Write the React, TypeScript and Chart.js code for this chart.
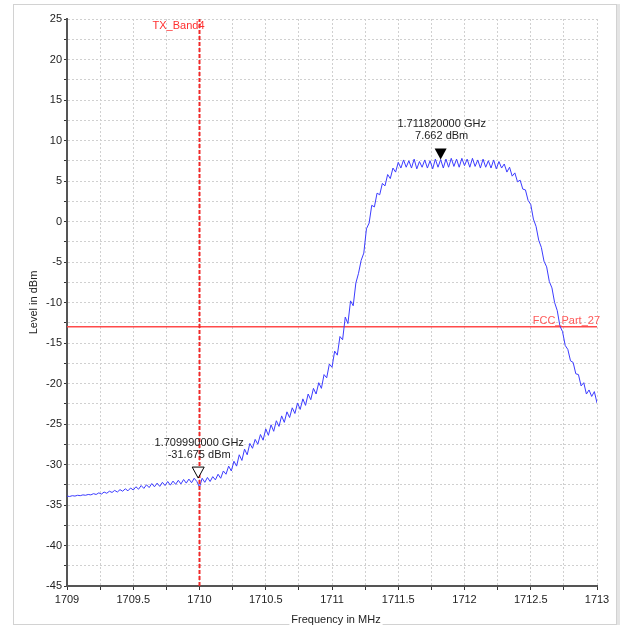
import React, { useEffect, useRef } from 'react';
import { Chart, registerables } from 'chart.js';

Chart.register(...registerables);

// ---- data ----
const sweepStartMHz = 1709;
const sweepStepMHz = 0.02;
const traceLevels = [
  -33.9, -33.95, -33.85, -33.9, -33.8, -33.85, -33.75, -33.8, -33.7, -33.75,
  -33.6, -33.7, -33.5, -33.65, -33.4, -33.55, -33.3, -33.45, -33.2, -33.4,
  -33.1, -33.3, -33.0, -33.25, -32.9, -33.15, -32.75, -33.05, -32.6, -32.95,
  -32.5, -32.85, -32.35, -32.75, -32.3, -32.7, -32.2, -32.6, -32.1, -32.55,
  -32.05, -32.45, -31.95, -32.4, -31.85, -32.3, -31.8, -32.25, -31.7, -32.1,
  -32.8, -31.7, -32.2, -31.6, -32.1, -31.5, -31.9, -31.2, -31.7, -30.8,
  -31.2, -30.2, -30.8, -29.6, -30.2, -28.8, -29.5, -28.1, -28.8, -27.4,
  -28.0, -26.9, -27.5, -26.3, -27.0, -25.6, -26.4, -25.1, -25.9, -24.6,
  -25.3, -24.0, -24.8, -23.5, -24.2, -23.0, -23.7, -22.4, -23.2, -21.9,
  -22.7, -21.3, -22.0, -20.6, -21.3, -19.9, -20.6, -18.9, -19.3, -17.6,
  -18.0, -16.0, -16.5, -14.2, -14.6, -11.8, -12.6, -9.8, -10.4, -7.6,
  -6.4, -4.8, -3.9, -0.9, -0.2, 2.0, 1.8, 3.5, 3.3, 4.7,
  4.4, 5.8, 5.3, 6.6, 6.1, 7.3, 6.6, 7.6, 6.7, 7.5,
  6.6, 7.7, 6.5, 7.4, 6.7, 7.6, 6.6, 7.5, 6.5, 7.7,
  6.7, 7.65, 6.6, 7.7, 6.7, 7.8, 6.8, 7.7, 6.7, 7.8,
  6.9, 7.7, 6.7, 7.8, 6.8, 7.6, 6.6, 7.7, 6.7, 7.5,
  6.6, 7.6, 6.5, 7.4, 6.6, 7.1, 6.1, 6.7, 5.6, 6.0,
  4.9, 5.1, 4.0, 3.9, 2.6, 2.1, 0.3, -0.6, -2.3, -3.2,
  -4.9, -5.6, -7.4, -8.2, -10.0, -11.0, -12.9, -13.6, -15.3, -15.8,
  -17.2, -17.4, -18.8, -18.9, -20.3, -19.9, -21.3, -20.8, -21.6, -21.0,
  -22.4,
];

const xTickValues = [
  1709, 1709.25, 1709.5, 1709.75, 1710, 1710.25, 1710.5, 1710.75, 1711,
  1711.25, 1711.5, 1711.75, 1712, 1712.25, 1712.5, 1712.75, 1713,
];
const xTickLabels = ['1709', '1709.5', '1710', '1710.5', '1711', '1711.5', '1712', '1712.5', '1713'];
const yTickValues = [
  -45, -42.5, -40, -37.5, -35, -32.5, -30, -27.5, -25, -22.5, -20, -17.5, -15,
  -12.5, -10, -7.5, -5, -2.5, 0, 2.5, 5, 7.5, 10, 12.5, 15, 17.5, 20, 22.5, 25,
];
const yTickLabels = ['-45', '-40', '-35', '-30', '-25', '-20', '-15', '-10', '-5', '0', '5', '10', '15', '20', '25'];

const bandLineName = 'TX_Band4';
const bandLineFreqMHz = 1710;
const limitLineName = 'FCC_Part_27';
const limitLineLevel = -13;

const markerFreqsMHz = [1711.82, 1709.99];
const markerLevels = [7.662, -31.675];
const markerFilled = [true, false];

const xTitle = 'Frequency in MHz';
const yTitle = 'Level in dBm';

// ---- styling ----
const FONT_FAMILY = '"Liberation Sans", Arial, sans-serif';
const FONT = `11px ${FONT_FAMILY}`;

const overlayPlugin = {
  id: 'overlay',
  beforeDraw(chart: any) {
    const { ctx } = chart;
    ctx.save();
    ctx.fillStyle = '#ffffff';
    ctx.fillRect(0, 0, chart.width, chart.height);
    ctx.strokeStyle = '#d2d2d2';
    ctx.lineWidth = 1;
    ctx.strokeRect(13.5, 4.5, 603, 620);
    ctx.fillStyle = '#e4e4e4';
    ctx.fillRect(617, 4, 3, 621);
    ctx.restore();
  },
  afterDatasetsDraw(chart: any) {
    const { ctx, chartArea } = chart;
    const xs = chart.scales.x;
    const ys = chart.scales.y;
    ctx.save();
    ctx.font = FONT;
    // band line label
    ctx.fillStyle = '#ff3030';
    ctx.textAlign = 'right';
    ctx.textBaseline = 'alphabetic';
    ctx.fillText(bandLineName, xs.getPixelForValue(bandLineFreqMHz) + 5, chartArea.top + 10);
    // limit line label
    ctx.fillStyle = '#ff5a5a';
    ctx.fillText(limitLineName, chartArea.right + 3, ys.getPixelForValue(limitLineLevel) - 3);

    // markers
    markerFreqsMHz.forEach((f, i) => {
      const px = xs.getPixelForValue(f);
      const py = ys.getPixelForValue(markerLevels[i]);
      ctx.beginPath();
      ctx.moveTo(px, py);
      ctx.lineTo(px - 6, py - 11);
      ctx.lineTo(px + 6, py - 11);
      ctx.closePath();
      if (markerFilled[i]) {
        ctx.fillStyle = '#000000';
        ctx.fill();
      } else {
        ctx.fillStyle = '#ffffff';
        ctx.fill();
        ctx.strokeStyle = '#000000';
        ctx.lineWidth = 1;
        ctx.stroke();
      }
      ctx.fillStyle = '#222222';
      ctx.textAlign = 'center';
      ctx.textBaseline = 'middle';
      ctx.fillText(`${(f / 1000).toFixed(9)} GHz`, px + 1, py - 35);
      ctx.fillText(`${markerLevels[i].toFixed(3)} dBm`, px + 1, py - 23);
    });
    ctx.restore();
  },
  afterDraw(chart: any) {
    const { ctx, chartArea } = chart;
    ctx.save();
    ctx.font = FONT;
    ctx.fillStyle = '#222222';
    ctx.textAlign = 'center';
    ctx.textBaseline = 'middle';
    // x title with white background (breaks frame line)
    const cx = (chartArea.left + chartArea.right) / 2 + 4;
    const w = ctx.measureText(xTitle).width;
    ctx.fillStyle = '#ffffff';
    ctx.fillRect(cx - w / 2 - 2, 614, w + 4, 14);
    ctx.fillStyle = '#222222';
    ctx.fillText(xTitle, cx, 620);
    // y title
    ctx.translate(34, (chartArea.top + chartArea.bottom) / 2);
    ctx.rotate(-Math.PI / 2);
    ctx.fillText(yTitle, 0, 0);
    ctx.restore();
  },
};

export default function App() {
  const canvasRef = useRef<HTMLCanvasElement | null>(null);

  useEffect(() => {
    if (!canvasRef.current) return;
    const trace = traceLevels.map((v, i) => ({ x: sweepStartMHz + i * sweepStepMHz, y: v }));
    const yMin = yTickValues[0];
    const yMax = yTickValues[yTickValues.length - 1];
    const xMin = xTickValues[0];
    const xMax = xTickValues[xTickValues.length - 1];

    const chart = new Chart(canvasRef.current, {
      type: 'scatter',
      data: {
        datasets: [
          {
            label: bandLineName,
            data: [
              { x: bandLineFreqMHz, y: yMin },
              { x: bandLineFreqMHz, y: yMax },
            ],
            showLine: true,
            borderColor: '#f02828',
            borderWidth: 2,
            borderDash: [4, 2],
            pointRadius: 0,
            order: 0,
          },
          {
            label: 'Trace',
            data: trace,
            showLine: true,
            borderColor: '#3c3cff',
            borderWidth: 1,
            pointRadius: 0,
            tension: 0,
            order: 1,
          },
          {
            label: limitLineName,
            data: [
              { x: xMin, y: limitLineLevel },
              { x: xMax, y: limitLineLevel },
            ],
            showLine: true,
            borderColor: '#ff4a4a',
            borderWidth: 1.5,
            pointRadius: 0,
            order: 2,
          },
        ],
      },
      options: {
        animation: false,
        responsive: false,
        devicePixelRatio: 1,
        layout: { padding: { left: 13, right: 27, top: 19, bottom: 0 } },
        plugins: {
          legend: { display: false },
          tooltip: { enabled: false },
          title: { display: false },
        },
        scales: {
          x: {
            type: 'linear',
            min: xMin,
            max: xMax,
            afterBuildTicks: (s: any) => {
              s.ticks = xTickValues.map((v) => ({ value: v }));
            },
            afterFit: (s: any) => {
              s.height = 42;
            },
            ticks: {
              autoSkip: false,
              maxRotation: 0,
              padding: 3,
              color: '#222222',
              font: { family: FONT_FAMILY, size: 11 },
              callback: (v: any) => {
                const s = String(v);
                return xTickLabels.includes(s) ? s : '';
              },
            },
            grid: { color: '#d0d0d0', tickColor: '#333333', tickLength: 4, tickWidth: 1 },
            border: { color: '#555555', width: 2, dash: [2, 2] },
            title: { display: false },
          },
          y: {
            type: 'linear',
            min: yMin,
            max: yMax,
            afterBuildTicks: (s: any) => {
              s.ticks = yTickValues.map((v) => ({ value: v }));
            },
            afterFit: (s: any) => {
              s.width = 54;
            },
            ticks: {
              autoSkip: false,
              padding: 2,
              color: '#222222',
              font: { family: FONT_FAMILY, size: 11 },
              callback: (v: any) => {
                const s = String(v);
                return yTickLabels.includes(s) ? s : '';
              },
            },
            grid: { color: '#d0d0d0', tickColor: '#333333', tickLength: 3, tickWidth: 1 },
            border: { color: '#555555', width: 2, dash: [2, 2] },
            title: { display: false },
          },
        },
      },
      plugins: [overlayPlugin],
    } as any);

    return () => chart.destroy();
  }, []);

  return (
    <div style={{ position: 'absolute', left: 0, top: 0, width: 624, height: 628 }}>
      <canvas ref={canvasRef} width={624} height={628} style={{ width: 624, height: 628 }} />
    </div>
  );
}
